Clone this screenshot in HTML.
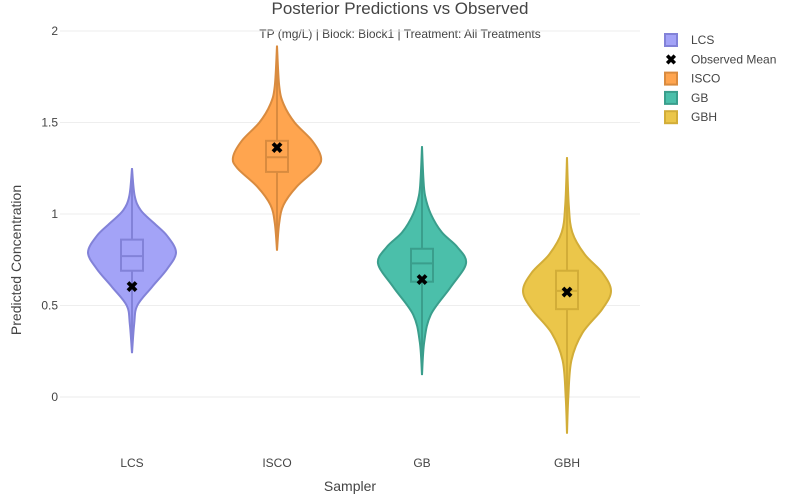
<!DOCTYPE html>
<html><head><meta charset="utf-8"><style>
body{margin:0;background:#fff;font-family:"Liberation Sans",sans-serif}
svg text{font-family:"Liberation Sans",sans-serif;fill:#444}
</style></head><body>
<svg id="c" width="800" height="494" viewBox="0 0 800 494">
<text x="400" y="14" text-anchor="middle" font-size="17">Posterior Predictions vs Observed</text>
<text x="400" y="38" text-anchor="middle" font-size="12">TP (mg/L) | Block: Block1 | Treatment: All Treatments</text>
<g id="grid"></g><g id="violins"></g>
<text x="350" y="491" text-anchor="middle" font-size="14">Sampler</text>
<text transform="translate(21,260) rotate(-90)" text-anchor="middle" font-size="14">Predicted Concentration</text>
<g id="legend"></g>
</svg>
<script>
const categories=["LCS","ISCO","GB","GBH"];
const mins=[0.24,0.80,0.12,-0.20];
const maxs=[1.25,1.92,1.37,1.31];
const q1s=[0.69,1.23,0.63,0.48];
const medians=[0.77,1.31,0.73,0.58];
const q3s=[0.86,1.40,0.81,0.69];
const observedMeans=[0.60,1.36,0.64,0.57];
const profileValues=[
[0.24,0.4,0.5,0.6,0.7,0.79,0.88,0.95,1.02,1.1,1.25],
[0.8,0.95,1.05,1.15,1.25,1.31,1.4,1.5,1.6,1.7,1.92],
[0.12,0.3,0.45,0.6,0.73,0.82,0.9,1.0,1.1,1.2,1.37],
[-0.2,0,0.2,0.35,0.48,0.58,0.68,0.78,0.9,1.05,1.31]];
const profileDensity=[
[0,0.05,0.12,0.45,0.8,1,0.8,0.5,0.2,0.06,0],
[0,0.05,0.15,0.45,0.9,1,0.8,0.4,0.15,0.05,0],
[0,0.05,0.2,0.65,1,0.8,0.45,0.2,0.07,0.03,0],
[0,0.03,0.1,0.35,0.8,1,0.8,0.4,0.12,0.04,0]];
const yTicks=[0,0.5,1,1.5,2];
const yTickLabels=["0","0.5","1","1.5","2"];
const fills=["#a3a3f7","#ffa54f","#4bbfaa","#ebc64a"];
const strokes=["#8282d8","#d98b3f","#3a9e8c","#d2ad38"];
const NS="http://www.w3.org/2000/svg";
const X=i=>132+i*145, Y=v=>397-v*183, HW=44;
function mk(t,a,p){const e=document.createElementNS(NS,t);for(const k in a)e.setAttribute(k,a[k]);p.appendChild(e);return e;}
const grid=document.getElementById('grid');
yTicks.forEach((t,i)=>{
 const l=mk('line',{x1:60,x2:640,y1:Y(t),y2:Y(t),stroke:t===0?'#ebebeb':'#eee','stroke-width':1},grid);
 
 
 const tx=mk('text',{x:58,y:Y(t)+4,'text-anchor':'end','font-size':12},grid);tx.textContent=yTickLabels[i];
 
 
});
function smooth(pts){let d=`M${pts[0][0]},${pts[0][1]}`;for(let i=0;i<pts.length-1;i++){const p0=pts[i-1]||pts[i],p1=pts[i],p2=pts[i+1],p3=pts[i+2]||p2;
 d+=` C${p1[0]+(p2[0]-p0[0])/6},${p1[1]+(p2[1]-p0[1])/6} ${p2[0]-(p3[0]-p1[0])/6},${p2[1]-(p3[1]-p1[1])/6} ${p2[0]},${p2[1]}`;}return d;}
const vg=document.getElementById('violins');
categories.forEach((c,i)=>{
 const g=mk('g',{},vg);
 
 
 const cx=X(i),vals=profileValues[i],den=profileDensity[i];
 const right=vals.map((v,k)=>[cx+den[k]*HW,Y(v)]);
 const left=vals.map((v,k)=>[cx-den[k]*HW,Y(v)]).reverse();
 let d=smooth(right)+' L'+smooth(left).slice(1)+' Z';
 mk('path',{d:d,fill:fills[i],stroke:strokes[i],'stroke-width':2},g);
 mk('line',{x1:cx,x2:cx,y1:Y(mins[i]),y2:Y(maxs[i]),stroke:strokes[i],'stroke-width':2},g);
 const b=mk('rect',{x:cx-11,y:Y(q3s[i]),width:22,height:Y(q1s[i])-Y(q3s[i]),fill:fills[i],stroke:strokes[i],'stroke-width':2},g);
 
 
 mk('line',{x1:cx-11,x2:cx+11,y1:Y(medians[i]),y2:Y(medians[i]),stroke:strokes[i],'stroke-width':2},g);
 const m=mk('text',{x:cx,y:Y(observedMeans[i])+5,'text-anchor':'middle','font-size':15,'font-weight':'bold',style:'fill:#000'},g);m.textContent='✖';
 
 
 const t=mk('text',{x:cx,y:467,'text-anchor':'middle','font-size':12},vg);t.textContent=c;
 
 
});
const lg=document.getElementById('legend');
const items=[["LCS",0],["Observed Mean",-1],["ISCO",1],["GB",2],["GBH",3]];
items.forEach((it,k)=>{
 const y=40+k*19.3;
 const g=mk('g',{},lg);
 
 
 if(it[1]>=0)mk('rect',{x:665,y:y-6,width:12,height:12,fill:fills[it[1]],stroke:strokes[it[1]],'stroke-width':2},g);
 else{const m=mk('text',{x:671,y:y+5,'text-anchor':'middle','font-size':14,'font-weight':'bold',style:'fill:#000'},g);m.textContent='✖';}
 const t=mk('text',{x:691,y:y+4,'font-size':12},g);t.textContent=it[0];
});
</script>
</body></html>
